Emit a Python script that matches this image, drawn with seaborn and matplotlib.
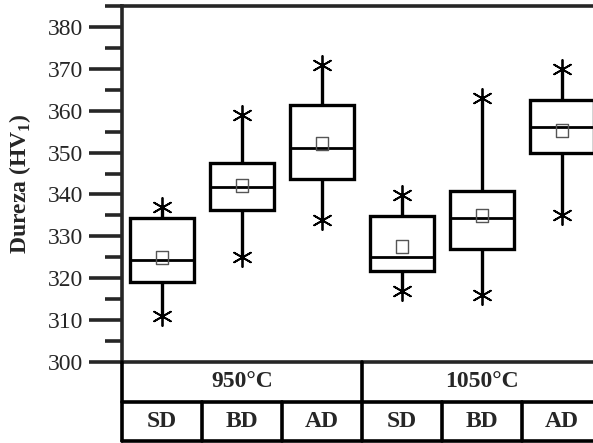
import numpy as np
import pandas as pd
import matplotlib
matplotlib.use("Agg")
import matplotlib.pyplot as plt
from matplotlib.ticker import MultipleLocator
import seaborn as sns

# dados (HV1)
temperaturas = ['950°C', '1050°C']
condicoes = ['SD', 'BD', 'AD', 'SD', 'BD', 'AD']
grupos = ['SD 950', 'BD 950', 'AD 950', 'SD 1050', 'BD 1050', 'AD 1050']
minimo = [311, 325, 334, 317, 316, 335]
q1 = [319, 336.3, 343.8, 321.7, 327, 349.8]
mediana = [324.3, 341.8, 351, 325, 334.3, 356]
q3 = [334.4, 347.4, 361.4, 334.8, 340.8, 362.6]
maximo = [337, 359, 370.8, 339.8, 363, 370]
media = [325, 342.1, 352.1, 327.5, 334.9, 355.3]

# cinco números por grupo -> formato longo
linhas = []
for i, g in enumerate(grupos):
    for v in (minimo[i], q1[i], mediana[i], q3[i], maximo[i]):
        linhas.append({'grupo': g, 'dureza': v})
df = pd.DataFrame(linhas)

sns.set_style("ticks")
plt.rcParams['font.family'] = ['Liberation Serif', 'DejaVu Serif']
plt.rcParams['axes.linewidth'] = 2.4

fig = plt.figure(figsize=(5.93, 4.43), dpi=100)
W, H = 593, 443
ax = fig.add_axes([122 / W, (H - 362) / H, 480 / W, 356 / H])
ax_tab = fig.add_axes([122 / W, 2 / H, 480 / W, 79 / H])

sns.boxplot(data=df, x='grupo', y='dureza', order=grupos, whis=(0, 100),
            width=0.8, showcaps=False, color='white', linecolor='black',
            linewidth=2.4, ax=ax,
            medianprops=dict(linewidth=2.0, color='black'))

pos = np.arange(len(grupos))
for extremo in (minimo, maximo):
    sns.scatterplot(x=pos, y=extremo, marker=(6, 2, 0), s=190, color='black',
                    linewidth=1.3, ax=ax, zorder=5)
sns.scatterplot(x=pos, y=media, marker='s', s=85, facecolor='none',
                edgecolor='#555555', linewidth=1.0, ax=ax, zorder=6)

ax.set_xlim(-0.5, 5.5)
ax.set_ylim(300, 385)
ax.set_yticks(range(300, 390, 10))
ax.yaxis.set_minor_locator(MultipleLocator(5))
ax.tick_params(axis='y', which='major', direction='out', length=24, width=2.6,
               labelsize=17, pad=4)
ax.tick_params(axis='y', which='minor', direction='out', length=12, width=2.6)
ax.tick_params(axis='x', bottom=False, labelbottom=False)
ax.set_xlabel('')
ax.set_ylabel('Dureza (HV$_\\mathregular{1}$)', fontsize=17, fontweight='bold')
ax.yaxis.set_label_coords(-0.185, 0.5)
for s in ax.spines.values():
    s.set_visible(True)
    s.set_linewidth(2.6)

# tabela de categorias abaixo do eixo
ax_tab.set_xlim(-0.5, 5.5)
ax_tab.set_ylim(0, 2)
ax_tab.axis('off')
lw = 2.6
ax_tab.plot([-0.5, -0.5], [0, 2], color='black', lw=lw, clip_on=False)
ax_tab.plot([2.5, 2.5], [0, 2], color='black', lw=lw, clip_on=False)
ax_tab.plot([-0.5, 5.5], [1, 1], color='black', lw=lw, clip_on=False)
ax_tab.plot([-0.5, 5.5], [0, 0], color='black', lw=lw, clip_on=False)
for xv in (0.5, 1.5, 3.5, 4.5):
    ax_tab.plot([xv, xv], [0, 1], color='black', lw=lw, clip_on=False)
for j, t in enumerate(temperaturas):
    ax_tab.text(1 + 3 * j, 1.5, t, ha='center', va='center', fontsize=17,
                fontweight='bold')
for i, c in enumerate(condicoes):
    ax_tab.text(i, 0.5, c, ha='center', va='center', fontsize=17,
                fontweight='bold')

fig.savefig('out.png', dpi=100)
